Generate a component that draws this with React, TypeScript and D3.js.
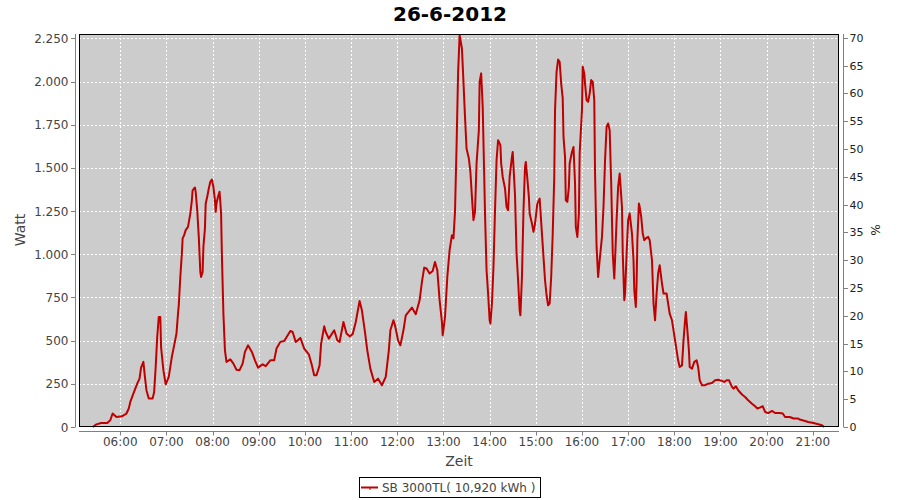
import React from "react";
import * as d3 from "d3";

const chartTitle = "26-6-2012";
const seriesName = "SB 3000TL( 10,920 kWh )";
const yLabel = "Watt";
const y2Label = "%";
const xLabel = "Zeit";

const times: string[] = [
  "05:24","05:29","05:35","05:43","05:47","05:50","05:55","06:02","06:08","06:11","06:13","06:17","06:22","06:25","06:27","06:30","06:32","06:34","06:37","06:42","06:44","06:46","06:48","06:50","06:52","06:53","06:56","06:59",
  "07:03","07:07","07:10","07:13","07:15","07:16","07:18","07:20","07:21","07:23","07:25","07:28","07:31","07:33","07:34","07:37","07:38","07:40","07:42","07:44","07:45","07:47","07:48","07:50","07:51","07:53","07:55","07:57","07:59",
  "08:01","08:03","08:04","08:05","08:07","08:09","08:10","08:11","08:12","08:14","08:16","08:18","08:23","08:27","08:31","08:35","08:39","08:42","08:46","08:51","08:55","08:59",
  "09:05","09:09","09:15","09:20","09:23","09:28","09:33","09:41","09:44","09:48","09:54","09:59",
  "10:05","10:09","10:12","10:15","10:19","10:21","10:25","10:27","10:31","10:38","10:42","10:45","10:50","10:54","10:58",
  "11:02","11:06","11:11","11:14","11:18","11:21","11:25","11:30","11:35","11:40","11:45","11:49","11:51","11:55","11:57",
  "12:01","12:04","12:08","12:11","12:19","12:24","12:29","12:32","12:35","12:38","12:42","12:46","12:49","12:52","12:55","12:58","12:59",
  "13:02","13:05","13:08","13:11","13:13","13:15","13:17","13:19","13:21","13:24","13:26","13:28","13:30","13:33","13:35","13:37","13:39","13:41","13:43","13:46","13:47","13:49","13:51","13:53","13:54","13:56","13:58",
  "14:00","14:01","14:03","14:05","14:07","14:09","14:11","14:14","14:15","14:17","14:20","14:22","14:24","14:26","14:29","14:30","14:33","14:35","14:37","14:39","14:40","14:42","14:44","14:46","14:47","14:49","14:51","14:52","14:55","14:57","14:59",
  "15:02","15:05","15:06","15:08","15:10","15:12","15:14","15:16","15:18","15:20","15:22","15:24","15:25","15:27","15:29","15:31","15:33","15:35","15:36","15:38","15:39","15:41","15:43","15:44","15:47","15:49","15:51","15:52","15:54","15:56","15:57",
  "16:00","16:01","16:03","16:04","16:06","16:08","16:10","16:12","16:14","16:16","16:17","16:19","16:21","16:23","16:26","16:28","16:30","16:32","16:34","16:36","16:38","16:40","16:42","16:43","16:45","16:47","16:49","16:52","16:53","16:55","16:56","16:58",
  "17:00","17:02","17:05","17:07","17:08","17:10","17:11","17:12","17:14","17:15","17:17","17:19","17:21","17:23","17:26","17:28","17:31","17:33","17:35","17:37","17:39","17:41","17:44","17:46","17:50","17:52","17:54","17:57","17:59",
  "18:01","18:03","18:05","18:07","18:10","18:12","18:14","18:15","18:17","18:19","18:20","18:23","18:26","18:29","18:31","18:33","18:36","18:40","18:44","18:49","18:53","18:57",
  "19:02","19:05","19:08","19:11","19:15","19:17","19:20","19:23","19:28","19:32","19:36","19:41","19:45","19:48","19:51","19:55","19:58",
  "20:02","20:07","20:11","20:17","20:21","20:24","20:30","20:35","20:41","20:43","20:50","20:54",
  "21:01","21:07","21:12","21:15"
];

const watts: number[] = [
  0,15,23,23,39,78,58,62,78,107,145,193,251,280,344,377,290,213,165,165,203,348,521,637,637,463,329,247,
  290,406,473,541,657,705,869,1004,1092,1111,1140,1159,1236,1313,1371,1387,1362,1255,1101,898,869,898,1043,1149,1294,1333,1381,1420,1433,
  1391,1313,1246,1294,1333,1362,1304,1236,1004,657,444,377,392,367,332,329,367,435,473,435,386,344,
  363,352,386,386,454,493,498,556,550,492,516,454,
  421,357,300,300,357,483,583,550,512,560,502,492,608,541,525,
  537,608,730,676,550,444,338,261,280,242,290,444,560,618,589,
  502,473,560,647,692,653,734,840,923,918,889,904,956,908,734,608,531,
  637,869,1024,1111,1092,1246,1622,2048,2269,2192,1999,1796,1613,1555,1477,1333,1198,1246,1526,1719,1999,2048,1854,1448,1236,908,773,
  618,599,715,927,1255,1545,1661,1632,1526,1448,1381,1275,1255,1448,1564,1593,1342,1004,850,676,647,869,1255,1506,1535,1439,1333,1236,1178,1130,1178,
  1294,1323,1255,1120,985,850,763,705,715,869,1120,1448,1835,2057,2128,2115,1989,1903,1680,1564,1313,1304,1391,1526,1593,1622,1410,1159,1101,1236,1584,
  1835,2086,2048,1989,1893,1883,1931,2009,1999,1893,1468,1043,869,966,1101,1275,1545,1738,1758,1719,1410,1004,860,966,1198,1391,1468,1275,1004,734,773,1004,
  1198,1236,1120,966,792,695,831,1082,1294,1275,1217,1120,1082,1092,1101,1082,966,715,618,773,889,937,831,773,773,715,657,618,560,
  502,444,386,348,357,502,618,666,560,444,348,338,377,386,348,271,242,242,251,255,271,274,
  267,261,271,271,232,222,236,213,188,174,155,135,120,107,112,120,87,
  81,93,81,81,78,58,58,49,49,43,35,29,
  23,16,10,0
];

const yTickValues: number[] = [0, 250, 500, 750, 1000, 1250, 1500, 1750, 2000, 2250];
const yTickLabels: string[] = ["0", "250", "500", "750", "1.000", "1.250", "1.500", "1.750", "2.000", "2.250"];
const y2TickValues: number[] = [0, 5, 10, 15, 20, 25, 30, 35, 40, 45, 50, 55, 60, 65, 70];
const xTickLabels: string[] = ["06:00","07:00","08:00","09:00","10:00","11:00","12:00","13:00","14:00","15:00","16:00","17:00","18:00","19:00","20:00","21:00"];

const parse = (s: string) => {
  const [h, m] = s.split(":").map(Number);
  return new Date(2012, 5, 26, h, m, 0);
};

const FONT = "'DejaVu Sans', Verdana, sans-serif";

export default function App() {
  const W = 900, H = 500;
  const left = 79, right = 839, top = 34, bottom = 427;

  const x = d3.scaleTime()
    .domain([new Date(2012, 5, 26, 5, 6, 20), new Date(2012, 5, 26, 21, 34, 3)])
    .range([left, right]);
  const y = d3.scaleLinear().domain([0, 2276]).range([bottom, top]);
  const y2 = d3.scaleLinear().domain([0, 70.67]).range([bottom, top]);

  const data = times.map((t, i) => ({ t: parse(t), v: watts[i] }));
  const line = d3.line<{ t: Date; v: number }>()
    .x(d => x(d.t))
    .y(d => y(d.v));

  const xTicks = xTickLabels.map(l => ({ d: parse(l), l }));
  const lineColor = "#c00000";
  const axisColor = "#808080";
  const tickText = "#444444";

  return (
    <svg width={W} height={H} style={{ position: "fixed", left: 0, top: 0, background: "#fff" }} fontFamily={FONT}>
      <rect x={0} y={0} width={W} height={H} fill="#ffffff" />
      <text x={450} y={21} textAnchor="middle" fontSize={20} fontWeight="bold" fill="#000">{chartTitle}</text>

      {/* plot background */}
      <rect x={left} y={top} width={right - left} height={bottom - top} fill="#cccccc" />

      {/* gridlines */}
      {xTicks.map((t, i) => (
        <line key={"gx" + i} x1={Math.round(x(t.d)) + 0.5} x2={Math.round(x(t.d)) + 0.5} y1={top} y2={bottom}
          stroke="#ffffff" strokeWidth={1} strokeDasharray="2,2" />
      ))}
      {yTickValues.map((v, i) => (
        <line key={"gy" + i} x1={left} x2={right} y1={Math.round(y(v)) + 0.5} y2={Math.round(y(v)) + 0.5}
          stroke="#ffffff" strokeWidth={1} strokeDasharray="2,2" />
      ))}

      {/* series */}
      <path d={line(data) || ""} fill="none" stroke={lineColor} strokeWidth={2} strokeLinejoin="round" />

      {/* plot border */}
      <rect x={left + 0.5} y={top + 0.5} width={right - left - 1} height={bottom - top - 1} fill="none" stroke="#000" strokeWidth={1} />

      {/* left axis */}
      <line x1={75.5} x2={75.5} y1={top} y2={bottom} stroke={axisColor} />
      {yTickValues.map((v, i) => (
        <g key={"yt" + i}>
          <line x1={71} x2={75.5} y1={Math.round(y(v)) + 0.5} y2={Math.round(y(v)) + 0.5} stroke={axisColor} />
          <text x={68.5} y={y(v) + 4.5} textAnchor="end" fontSize={12} fill={tickText}>{yTickLabels[i]}</text>
        </g>
      ))}
      <text transform={`translate(25,230) rotate(-90)`} textAnchor="middle" fontSize={14} fill={tickText}>{yLabel}</text>

      {/* right axis */}
      <line x1={843.5} x2={843.5} y1={top} y2={bottom} stroke={axisColor} />
      {y2TickValues.map((v, i) => (
        <g key={"y2t" + i}>
          <line x1={843.5} x2={848} y1={Math.round(y2(v)) + 0.5} y2={Math.round(y2(v)) + 0.5} stroke={axisColor} />
          <text x={849.5} y={y2(v) + 4} textAnchor="start" fontSize={11} fill="#222">{String(v)}</text>
        </g>
      ))}
      <text transform={`translate(871,230) rotate(90)`} textAnchor="middle" fontSize={12} fill="#222">{y2Label}</text>

      {/* bottom axis */}
      <line x1={left} x2={right} y1={431.5} y2={431.5} stroke={axisColor} />
      {xTicks.map((t, i) => (
        <g key={"xt" + i}>
          <line x1={Math.round(x(t.d)) + 0.5} x2={Math.round(x(t.d)) + 0.5} y1={431.5} y2={435.5} stroke={axisColor} />
          <text x={x(t.d)} y={446} textAnchor="middle" fontSize={12} fill={tickText}>{t.l}</text>
        </g>
      ))}
      <text x={459} y={466} textAnchor="middle" fontSize={14} fill={tickText}>{xLabel}</text>

      {/* legend */}
      <rect x={359.5} y={477.5} width={181} height={20} fill="#fff" stroke="#000" strokeWidth={1} />
      <line x1={361} x2={378} y1={487.5} y2={487.5} stroke={lineColor} strokeWidth={2} />
      <line x1={370} x2={370} y1={487} y2={490} stroke={lineColor} strokeWidth={1} />
      <text x={382} y={491.5} fontSize={12} fill={tickText}>{seriesName}</text>
    </svg>
  );
}
